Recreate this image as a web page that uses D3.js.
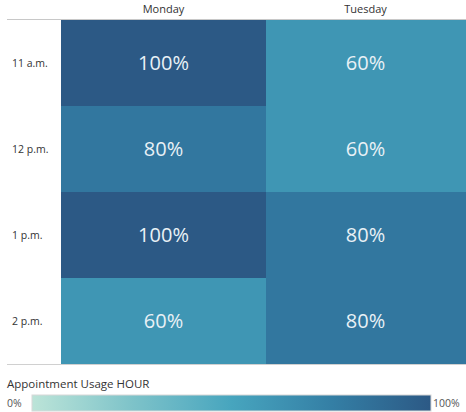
<!DOCTYPE html>
<html>
<head>
<meta charset="utf-8">
<script src="https://cdn.jsdelivr.net/npm/d3@7"></script>
<style>
  html, body { margin: 0; padding: 0; background: #fff; }
  svg { display: block; font-family: "Open Sans", "Noto Sans", sans-serif; }
</style>
</head>
<body>
<svg id="chart" width="466" height="412"></svg>
<script>
const days = ["Monday", "Tuesday"];
const hours = ["11 a.m.", "12 p.m.", "1 p.m.", "2 p.m."];
const monday = [1.0, 0.8, 1.0, 0.6];
const tuesday = [0.6, 0.6, 0.8, 0.8];
const legendTitle = "Appointment Usage HOUR";
const legendTicks = ["0%", "100%"];

const cells = [];
hours.forEach((h, i) => {
  cells.push({ day: "Monday", hour: h, value: monday[i] });
  cells.push({ day: "Tuesday", hour: h, value: tuesday[i] });
});

const svg = d3.select("#chart");
const x = d3.scaleBand().domain(days).range([61, 471]);
const y = d3.scaleBand().domain(hours).range([20, 364]);
const color = d3.scaleLinear()
  .domain([0, 0.25, 0.5, 0.75, 1])
  .range(["#bce4d8", "#7ec3c9", "#47a5be", "#347fa5", "#2c5985"])
  .interpolate(d3.interpolateRgb);
const pct = d3.format(".0%");

// header / footer lines
svg.append("line").attr("x1", 7).attr("x2", 466).attr("y1", 19.5).attr("y2", 19.5)
  .attr("stroke", "#c8c8c8");
svg.append("line").attr("x1", 7).attr("x2", 466).attr("y1", 364.5).attr("y2", 364.5)
  .attr("stroke", "#d0d0d0");

// cells
svg.append("g").selectAll("rect").data(cells).join("rect")
  .attr("x", d => x(d.day))
  .attr("y", d => y(d.hour))
  .attr("width", x.bandwidth())
  .attr("height", y.bandwidth())
  .attr("fill", d => color(d.value));

svg.append("g").selectAll("text").data(cells).join("text")
  .attr("x", d => x(d.day) + x.bandwidth() / 2 - (d.day === "Tuesday" ? 3 : 0))
  .attr("y", d => y(d.hour) + y.bandwidth() / 2)
  .attr("dy", "0.36em")
  .attr("text-anchor", "middle")
  .attr("fill", "#e9f1f6")
  .attr("font-size", 20)
  .text(d => pct(d.value));

// column headers
svg.append("g").selectAll("text").data(days).join("text")
  .attr("x", d => x(d) + x.bandwidth() / 2 - (d === "Tuesday" ? 3 : 0))
  .attr("y", 13)
  .attr("text-anchor", "middle")
  .attr("fill", "#333")
  .attr("font-size", 11)
  .text(d => d);

// row labels
svg.append("g").selectAll("text").data(hours).join("text")
  .attr("x", 12)
  .attr("y", d => y(d) + y.bandwidth() / 2)
  .attr("dy", "0.36em")
  .attr("fill", "#333")
  .attr("font-size", 10.5)
  .text(d => d);

// legend
const lx = d3.scaleLinear().domain([0, 1]).range([32, 431]);
const defs = svg.append("defs");
const grad = defs.append("linearGradient").attr("id", "lg");
d3.range(0, 1.0001, 0.125).forEach(t => {
  grad.append("stop").attr("offset", t).attr("stop-color", color(t));
});
svg.append("text").attr("x", 7).attr("y", 388).attr("fill", "#333")
  .attr("font-size", 11.5).text(legendTitle);
svg.append("rect").attr("x", lx(0)).attr("y", 395).attr("width", lx(1) - lx(0))
  .attr("height", 16).attr("fill", "url(#lg)")
  .attr("stroke", "#d8d8d8").attr("stroke-width", 1);
svg.append("text").attr("x", 7).attr("y", 403).attr("dy", "0.36em")
  .attr("fill", "#555").attr("font-size", 10.5).text(legendTicks[0]);
svg.append("text").attr("x", 433).attr("y", 403).attr("dy", "0.36em")
  .attr("fill", "#555").attr("font-size", 10.5).text(legendTicks[1]);
</script>
</body>
</html>
